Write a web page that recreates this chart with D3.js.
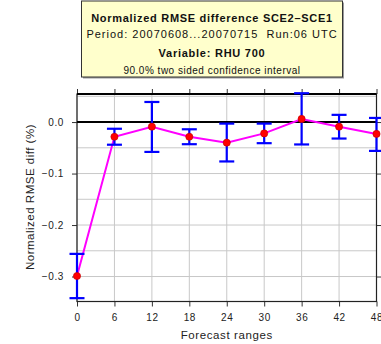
<!DOCTYPE html>
<html>
<head>
<meta charset="utf-8">
<script src="https://cdn.jsdelivr.net/npm/d3@7"></script>
<style>
  html, body { margin: 0; padding: 0; background: #fff; }
  svg { display: block; font-family: "Liberation Sans", Arial, sans-serif; }
</style>
</head>
<body>
<svg id="chart" width="381" height="344"></svg>
<script>
// Forecast ranges (hours) and normalized RMSE differences with 90% CI bounds
const ranges = [0, 6, 12, 18, 24, 30, 36, 42, 48];
const meanDiff = [-0.299, -0.0285, -0.009, -0.0285, -0.040, -0.022, 0.006, -0.009, -0.023];
const lowerCI  = [-0.342, -0.044, -0.058, -0.043, -0.0765, -0.041, -0.0435, -0.032, -0.056];
const upperCI  = [-0.256, -0.013, 0.039, -0.014, -0.003, -0.003, 0.056, 0.014, 0.008];
const yTicks = [-0.3, -0.2, -0.1, 0.0];
const yGrid = [-0.35, -0.3, -0.25, -0.2, -0.15, -0.1, -0.05, 0.0, 0.05];
const titleLines = [
  "Normalized RMSE difference SCE2\u2013SCE1",
  "Period: 20070608...20070715  Run:06 UTC",
  "Variable: RHU 700",
  "90.0% two sided confidence interval"
];

const svg = d3.select("#chart");
const pL = 77, pR = 376.5, pT = 94, pB = 301.5;

const x = d3.scaleLinear().domain([0, 48]).range([pL, pR]);
const y = d3.scaleLinear().domain([-0.3485, 0.0545]).range([pB, pT]);

// grid
const grid = svg.append("g").attr("stroke", "#c8c8c8").attr("stroke-width", 1);
grid.selectAll("line.v").data(ranges).join("line")
  .attr("x1", d => x(d)).attr("x2", d => x(d))
  .attr("y1", pT).attr("y2", pB);
grid.selectAll("line.h").data(yGrid.filter(v => y(v) > pT + 1 && y(v) < pB - 1)).join("line")
  .attr("x1", pL).attr("x2", pR)
  .attr("y1", d => y(d)).attr("y2", d => y(d));

// axes
const xAxisB = d3.axisBottom(x).tickValues(ranges).tickSize(5).tickPadding(7).tickFormat(d3.format("d"));
const xAxisT = d3.axisTop(x).tickValues(ranges).tickSize(5).tickFormat("");
const yAxisL = d3.axisLeft(y).tickValues(yTicks).tickSize(5).tickPadding(8).tickFormat(d3.format(".1f"));
const yAxisR = d3.axisRight(y).tickValues(yTicks).tickSize(5).tickFormat("");

function styleAxis(g) {
  g.select(".domain").remove();
  g.selectAll(".tick line").attr("stroke", "#333");
  g.selectAll(".tick text").attr("fill", "#222").attr("font-size", 10)
    .attr("letter-spacing", 0.6)
    .attr("font-family", "Liberation Sans, Arial, sans-serif");
}
svg.append("g").attr("transform", `translate(0,${pB})`).call(xAxisB).call(styleAxis);
svg.append("g").attr("transform", `translate(0,${pT})`).call(xAxisT).call(styleAxis);
svg.append("g").attr("transform", `translate(${pL},0)`).call(yAxisL).call(styleAxis);
svg.append("g").attr("transform", `translate(${pR},0)`).call(yAxisR).call(styleAxis);

// frame
svg.append("rect").attr("x", pL).attr("y", pT)
  .attr("width", pR - pL).attr("height", pB - pT)
  .attr("fill", "none").attr("stroke", "#222").attr("stroke-width", 1.2);
svg.append("line").attr("x1", pL).attr("x2", pR).attr("y1", pT).attr("y2", pT)
  .attr("stroke", "#000").attr("stroke-width", 2);
// zero reference line
svg.append("line").attr("x1", pL).attr("x2", pR).attr("y1", y(0)).attr("y2", y(0))
  .attr("stroke", "#000").attr("stroke-width", 2);

const data = ranges.map((r, i) => ({ r, m: meanDiff[i], lo: lowerCI[i], hi: upperCI[i] }));

// connecting line
svg.append("path").datum(data)
  .attr("fill", "none").attr("stroke", "#ff00ff").attr("stroke-width", 2)
  .attr("d", d3.line().x(d => x(d.r)).y(d => y(d.m)));

// error bars
const eb = svg.append("g").attr("stroke", "#0000ff").attr("stroke-width", 2.2);
eb.selectAll("line.s").data(data).join("line")
  .attr("x1", d => x(d.r)).attr("x2", d => x(d.r))
  .attr("y1", d => y(d.lo)).attr("y2", d => y(d.hi));
eb.selectAll("line.t").data(data).join("line")
  .attr("x1", d => x(d.r) - 7.5).attr("x2", d => x(d.r) + 7.5)
  .attr("y1", d => y(d.hi)).attr("y2", d => y(d.hi));
eb.selectAll("line.b").data(data).join("line")
  .attr("x1", d => x(d.r) - 7.5).attr("x2", d => x(d.r) + 7.5)
  .attr("y1", d => y(d.lo)).attr("y2", d => y(d.lo));

// points
svg.append("g").selectAll("circle").data(data).join("circle")
  .attr("cx", d => x(d.r)).attr("cy", d => y(d.m)).attr("r", 3.6)
  .attr("fill", "#ff0000").attr("stroke", "#c00000").attr("stroke-width", 0.6);

// axis titles
svg.append("text").attr("x", (pL + pR) / 2).attr("y", 339)
  .attr("text-anchor", "middle").attr("font-size", 11.5).attr("letter-spacing", 0.6)
  .attr("fill", "#222")
  .text("Forecast ranges");
svg.append("text").attr("transform", "translate(33.5,197) rotate(-90)")
  .attr("text-anchor", "middle").attr("font-size", 11.5).attr("letter-spacing", 0.5)
  .attr("fill", "#222")
  .text("Normalized RMSE diff (%)");

// title box
const bx = 81.5, by = 1, bw = 261, bh = 76;
svg.append("rect").attr("x", bx + 1.5).attr("y", by + 1.5).attr("width", bw).attr("height", bh)
  .attr("fill", "#9a9a9a");
svg.append("rect").attr("x", bx).attr("y", by).attr("width", bw).attr("height", bh)
  .attr("fill", "#ffffcc").attr("stroke", "#333").attr("stroke-width", 1);
const cx = bx + bw / 2;
const tStyles = [
  { y: 22, size: 11, weight: "bold", ls: 0.7 },
  { y: 37.5, size: 11, weight: "normal", ls: 1.0 },
  { y: 56.5, size: 11, weight: "bold", ls: 0.75 },
  { y: 73.5, size: 10, weight: "normal", ls: 0.5 }
];
svg.append("g").selectAll("text").data(titleLines).join("text")
  .attr("x", cx).attr("y", (d, i) => tStyles[i].y)
  .attr("text-anchor", "middle").attr("font-size", (d, i) => tStyles[i].size)
  .attr("font-weight", (d, i) => tStyles[i].weight)
  .attr("letter-spacing", (d, i) => tStyles[i].ls)
  .style("white-space", "pre")
  .attr("fill", "#111")
  .text(d => d);
</script>
</body>
</html>
